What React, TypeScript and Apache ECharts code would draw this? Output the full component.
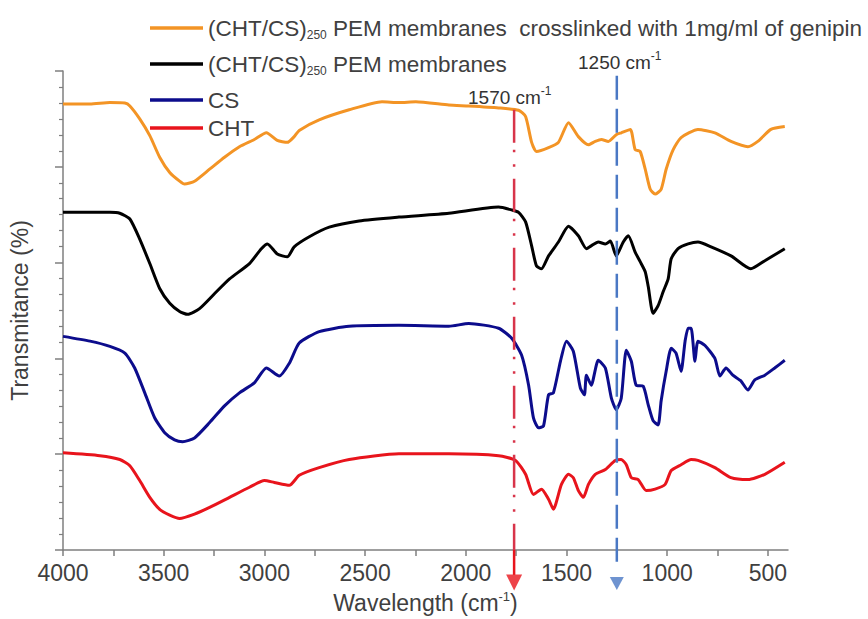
import React, { useEffect, useRef } from 'react';
import * as echarts from 'echarts';

// ---------- data (wavenumber in cm-1, transmittance in arbitrary % units) ----------
const seriesNames = [
  '(CHT/CS)250 PEM membranes  crosslinked with 1mg/ml of genipin',
  '(CHT/CS)250 PEM membranes',
  'CS',
  'CHT',
];

const wnGenipin = [4000, 3866, 3767, 3693, 3668, 3619, 3569, 3520, 3470, 3421, 3396, 3347, 3272, 3198, 3124, 3050, 2990, 2936, 2886, 2852, 2827, 2728, 2579, 2416, 2332, 2248, 2084, 1985, 1837, 1738, 1703, 1673, 1649, 1589, 1540, 1490, 1441, 1391, 1357, 1327, 1292, 1253, 1228, 1183, 1159, 1134, 1109, 1084, 1060, 1030, 1005, 970, 931, 847, 763, 683, 599, 550, 485, 416];
const tGenipin = [93.1, 93.1, 93.4, 93.3, 92.7, 90.0, 86.5, 82.0, 78.8, 77.0, 76.4, 77.0, 79.5, 82.0, 84.2, 85.7, 87.1, 85.5, 85.1, 86.3, 87.6, 89.8, 91.9, 93.6, 93.4, 93.6, 92.9, 92.7, 92.3, 91.8, 90.5, 85.1, 83.2, 84.0, 85.1, 89.2, 86.3, 84.6, 85.3, 85.7, 85.3, 86.7, 87.1, 87.8, 83.6, 83.2, 79.5, 75.3, 74.3, 75.3, 79.5, 83.6, 86.1, 87.8, 87.1, 85.3, 84.2, 85.3, 87.8, 88.4];

const wnPem = [4000, 3767, 3718, 3668, 3619, 3569, 3520, 3470, 3421, 3381, 3322, 3248, 3173, 3074, 3015, 2985, 2936, 2886, 2852, 2777, 2678, 2530, 2332, 2084, 1837, 1772, 1738, 1703, 1673, 1649, 1624, 1589, 1540, 1490, 1441, 1401, 1377, 1342, 1307, 1282, 1253, 1218, 1193, 1159, 1134, 1109, 1094, 1070, 1045, 1020, 995, 980, 946, 896, 847, 782, 683, 585, 515, 416];
const tPem = [70.5, 70.5, 70.3, 69.1, 64.9, 59.8, 54.6, 51.5, 49.8, 49.2, 50.4, 53.5, 56.6, 59.8, 62.9, 63.9, 61.8, 61.2, 63.3, 65.4, 67.4, 68.7, 69.5, 70.3, 71.6, 71.0, 70.5, 68.5, 63.5, 59.3, 58.7, 61.4, 64.3, 67.6, 65.6, 62.9, 63.5, 64.3, 63.9, 64.5, 61.4, 64.3, 65.6, 62.2, 60.2, 58.1, 55.0, 49.4, 51.0, 53.9, 56.6, 60.8, 62.9, 63.9, 64.3, 63.3, 61.4, 58.7, 60.4, 62.9];

const wnCS = [4000, 3866, 3767, 3693, 3644, 3594, 3545, 3495, 3446, 3406, 3347, 3272, 3198, 3124, 3050, 2990, 2926, 2876, 2827, 2728, 2579, 2332, 2084, 1985, 1837, 1772, 1723, 1688, 1664, 1639, 1614, 1589, 1565, 1530, 1500, 1466, 1431, 1411, 1401, 1377, 1342, 1307, 1277, 1253, 1228, 1203, 1178, 1154, 1119, 1094, 1070, 1045, 1030, 1005, 980, 956, 931, 911, 896, 881, 862, 847, 812, 763, 738, 708, 674, 634, 599, 565, 515, 466, 416];
const tCS = [44.6, 43.6, 42.5, 41.1, 38.0, 32.8, 27.6, 24.5, 23.0, 22.6, 23.4, 26.6, 30.1, 32.8, 34.9, 38.0, 36.3, 39.0, 43.2, 45.6, 46.7, 46.9, 46.7, 47.3, 46.3, 44.2, 40.7, 34.4, 27.6, 25.5, 25.9, 32.4, 32.8, 39.4, 43.6, 41.5, 33.8, 32.4, 36.5, 34.4, 39.6, 38.0, 31.7, 29.3, 31.7, 41.7, 39.4, 34.4, 34.2, 30.3, 27.0, 26.1, 31.1, 37.3, 42.1, 41.1, 37.3, 43.6, 46.3, 46.3, 39.4, 43.6, 42.7, 40.0, 36.3, 38.0, 36.5, 35.3, 33.4, 35.5, 36.5, 38.0, 39.6];

const wnCHT = [4000, 3817, 3718, 3668, 3619, 3569, 3520, 3470, 3421, 3347, 3272, 3173, 3074, 3000, 2951, 2876, 2827, 2728, 2579, 2332, 2084, 1837, 1753, 1703, 1664, 1624, 1589, 1565, 1525, 1490, 1466, 1441, 1416, 1391, 1357, 1307, 1258, 1228, 1203, 1178, 1144, 1104, 1060, 1010, 980, 931, 881, 847, 763, 683, 599, 515, 416];
const tCHT = [20.3, 19.7, 18.9, 17.6, 14.5, 11.0, 8.5, 7.3, 6.6, 7.5, 8.9, 11.0, 13.1, 14.5, 14.1, 13.5, 15.6, 17.2, 18.9, 20.1, 20.1, 19.7, 18.7, 15.8, 11.6, 12.7, 10.6, 8.5, 13.7, 15.8, 15.1, 12.4, 11.0, 13.7, 15.8, 16.8, 18.7, 18.9, 17.8, 15.1, 14.7, 12.4, 12.7, 13.7, 16.6, 17.8, 18.9, 18.7, 17.2, 15.1, 14.7, 15.8, 18.3];

const seriesColors = ['#f39425', '#000000', '#0c0c8c', '#e8141c'];

// axis ticks
const xLabelValues = [4000, 3500, 3000, 2500, 2000, 1500, 1000, 500];
const xTickValues = [4000, 3750, 3500, 3250, 3000, 2750, 2500, 2250, 2000, 1750, 1500, 1250, 1000, 750, 500];

// marked bands
const band1Label = '1570';
const band1Pos = 1760;
const band1Top = 91.9;
const band2Label = '1250';
const band2Pos = 1250;
const band2Top = 99.0;

const FONT = '"Liberation Sans", Arial, sans-serif';
const TEXT = '#404040';

function zip(xs: number[], ys: number[]) {
  return xs.map((x, i) => [x, ys[i]]);
}

export default function App() {
  const ref = useRef<HTMLDivElement>(null);

  useEffect(() => {
    const chart = echarts.init(ref.current!, null, { renderer: 'svg' });
    const wnArrays = [wnGenipin, wnPem, wnCS, wnCHT];
    const tArrays = [tGenipin, tPem, tCS, tCHT];

    const spectra = seriesNames.map((name, i) => ({
      name,
      type: 'line',
      data: zip(wnArrays[i], tArrays[i]),
      symbol: 'none',
      smooth: 0.2,
      lineStyle: { color: seriesColors[i], width: 3 },
      itemStyle: { color: seriesColors[i] },
      z: 2,
    }));

    const red = '#d8344a';
    const blue = '#4a78c4';
    const markers = [
      {
        type: 'line',
        data: [[band1Pos, band1Top], [band1Pos, 0]],
        symbol: 'none',
        clip: false,
        lineStyle: { color: red, width: 2.5, type: [33, 7, 2.5, 12, 2.5, 12] },
        z: 5,
      },
      {
        type: 'line',
        data: [[band1Pos, 0], [band1Pos, -5.2]],
        symbol: 'none',
        clip: false,
        lineStyle: { color: '#e8141c', width: 2.5 },
        z: 5,
      },
      {
        type: 'scatter',
        data: [[band1Pos, -6.8]],
        symbol: 'triangle',
        symbolRotate: 180,
        symbolSize: [16, 16],
        clip: false,
        itemStyle: { color: '#e8141c' },
        z: 5,
      },
      {
        type: 'line',
        data: [[band2Pos, band2Top], [band2Pos, -2.5]],
        symbol: 'none',
        clip: false,
        lineStyle: { color: blue, width: 2.5, type: [24, 9] },
        z: 5,
      },
      {
        type: 'scatter',
        data: [[band2Pos, -7.0]],
        symbol: 'triangle',
        symbolRotate: 180,
        symbolSize: [14, 13],
        clip: false,
        itemStyle: { color: blue },
        z: 5,
      },
    ];

    const legendRowsY = [28, 64, 100, 128];
    const legendTexts = [
      '{a|(CHT/CS)}{s|250}{a| PEM membranes  crosslinked with 1mg/ml of genipin}',
      '{a|(CHT/CS)}{s|250}{a| PEM membranes}',
      '{a|CS}',
      '{a|CHT}',
    ];
    const richLegend = {
      a: { fontSize: 22.5, fontFamily: FONT, fill: TEXT, color: TEXT },
      s: { fontSize: 12, fontFamily: FONT, fill: TEXT, color: TEXT, padding: [14, 0, 0, 0] },
    };
    const legendGraphics: any[] = [];
    legendRowsY.forEach((y, i) => {
      legendGraphics.push({
        type: 'line',
        shape: { x1: 150, y1: y, x2: 203, y2: y },
        style: { stroke: seriesColors[i], lineWidth: 3.5 },
      });
      legendGraphics.push({
        type: 'text',
        x: 208,
        y: y,
        style: {
          text: legendTexts[i],
          rich: richLegend,
          fill: TEXT,
          verticalAlign: 'middle',
          align: 'left',
        },
      });
    });

    const richNote = {
      n: { fontSize: 19, fontFamily: FONT, fill: '#333', color: '#333' },
      u: { fontSize: 12, fontFamily: FONT, fill: '#333', color: '#333', padding: [0, 0, 12, 0] },
    };
    const notes = [
      { x: 468, y: 97, text: `{n|${band1Label} cm}{u|-1}` },
      { x: 578, y: 62, text: `{n|${band2Label} cm}{u|-1}` },
    ].map((n) => ({
      type: 'text',
      x: n.x,
      y: n.y,
      style: { text: n.text, rich: richNote, verticalAlign: 'middle', align: 'left' },
    }));

    chart.setOption({
      animation: false,
      grid: { left: 63, right: 80, top: 71, bottom: 66 },
      xAxis: {
        type: 'value',
        inverse: true,
        min: 400,
        max: 4000,
        name: '{a|Wavelength (cm}{u|-1}{a|)}',
        nameLocation: 'middle',
        nameGap: 40,
        nameTextStyle: {
          rich: {
            a: { fontSize: 23, fontFamily: FONT, color: TEXT },
            u: { fontSize: 13, fontFamily: FONT, color: TEXT, padding: [0, 0, 12, 0] },
          },
        },
        axisLine: { show: true, onZero: false, lineStyle: { color: '#7f7f7f', width: 1.5 } },
        axisTick: { show: true, length: 6, customValues: xTickValues, lineStyle: { color: '#7f7f7f', width: 1.5 } },
        axisLabel: {
          customValues: xLabelValues,
          formatter: (v: number) => String(v),
          fontSize: 23,
          fontFamily: FONT,
          color: TEXT,
          margin: 11,
        },
        splitLine: { show: false },
      },
      yAxis: {
        type: 'value',
        min: 0,
        max: 100,
        interval: 20,
        name: 'Transmitance (%)',
        nameLocation: 'middle',
        nameRotate: 90,
        nameGap: 32,
        nameTextStyle: { fontSize: 23, fontFamily: FONT, color: TEXT },
        axisLine: { show: true, onZero: false, lineStyle: { color: '#7f7f7f', width: 1.5 } },
        axisTick: { show: true, length: 8, lineStyle: { color: '#7f7f7f', width: 1.5 } },
        minorTick: { show: true, splitNumber: 6, length: 4, lineStyle: { color: '#7f7f7f', width: 1.2 } },
        axisLabel: { show: false },
        splitLine: { show: false },
        minorSplitLine: { show: false },
      },
      series: [...spectra, ...markers],
      graphic: [...legendGraphics, ...notes],
    });

    return () => chart.dispose();
  }, []);

  return (
    <div
      ref={ref}
      style={{ position: 'fixed', left: 0, top: 0, width: 868, height: 619, background: '#fff' }}
    />
  );
}
